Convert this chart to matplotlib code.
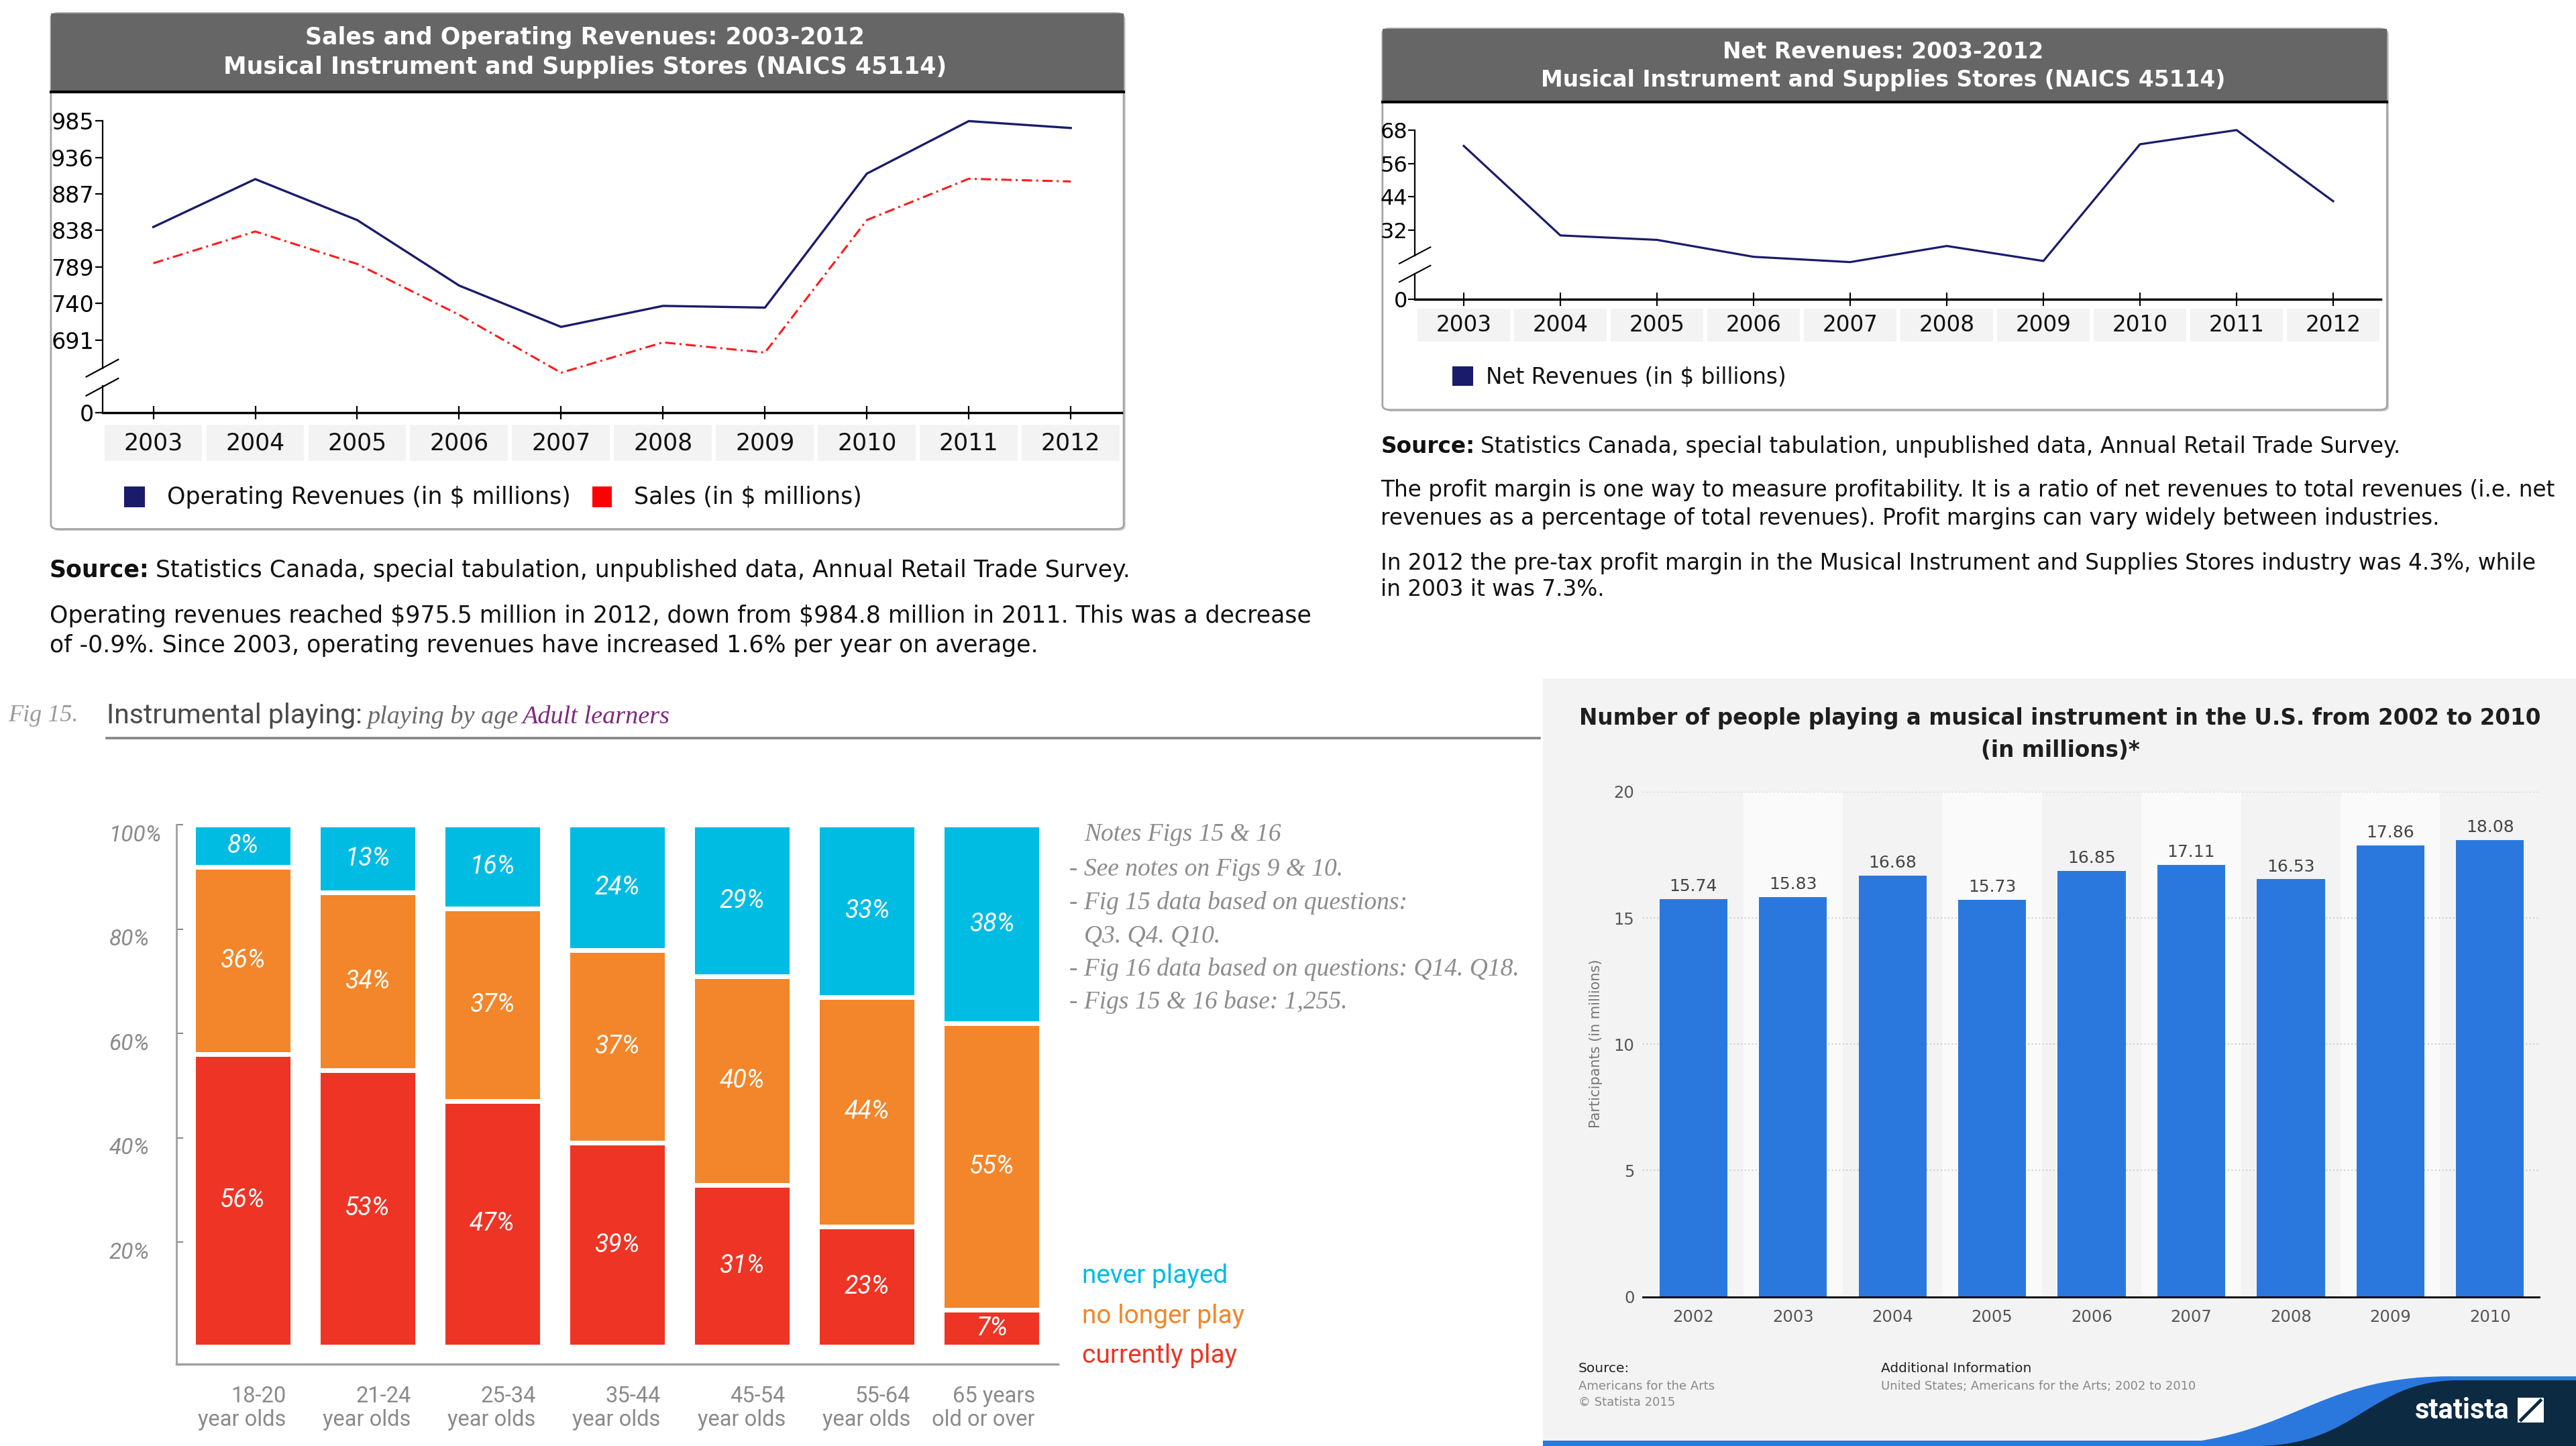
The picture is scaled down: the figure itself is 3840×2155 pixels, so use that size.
import numpy as np
import matplotlib
matplotlib.use("Agg")
import matplotlib.pyplot as plt
import matplotlib.transforms as mtransforms
from matplotlib.patches import Rectangle, FancyBboxPatch, PathPatch
from matplotlib.path import Path
from matplotlib.lines import Line2D
from matplotlib.text import Annotation

plt.rcParams['text.parse_math'] = False   # the texts contain plain dollar signs

# --- top left: sales and operating revenues, $ millions ---
years = list(range(2003, 2013))
operating_revenues = [842.6, 906.9, 851.9, 764.0, 708.5, 736.7, 734.4, 914.3, 984.8, 975.5]
sales = [794.0, 836.6, 793.0, 724.7, 647.0, 687.7, 674.0, 852.0, 907.4, 903.7]
rev_ticks = [691, 740, 789, 838, 887, 936, 985]
rev_zero_at = 593      # broken axis: the "0" sits two steps under 691

# --- top right: net revenues ---
net_revenues = [62.3, 30.1, 28.5, 22.4, 20.5, 26.3, 20.9, 62.9, 68.0, 42.4]
net_ticks = [32, 44, 56, 68]
net_zero_at = 7.2

# --- bottom left: Fig 15, playing by age (%) ---
age_groups = ["18-20\nyear olds", "21-24\nyear olds", "25-34\nyear olds", "35-44\nyear olds",
              "45-54\nyear olds", "55-64\nyear olds", "65 years\nold or over"]
currently_play = [56, 53, 47, 39, 31, 23, 7]
no_longer_play = [36, 34, 37, 37, 40, 44, 55]
never_played = [8, 13, 16, 24, 29, 33, 38]
pct_ticks = [20, 40, 60, 80, 100]

# --- bottom right: statista, players in the U.S. (millions) ---
us_years = [str(y) for y in range(2002, 2011)]
us_players = [15.74, 15.83, 16.68, 15.73, 16.85, 17.11, 16.53, 17.86, 18.08]
us_ticks = [0, 5, 10, 15, 20]

NAVY = '#1b1b6b'
RED_LINE = '#ff1a1a'
C_RED, C_ORANGE, C_CYAN = '#ee3424', '#f3862a', '#00bce3'
ST_BLUE, ST_NAVY = '#2a78de', '#0d2a43'
SERIF = 'Liberation Serif'
NARROW = 'Roboto'

fig = plt.figure(figsize=(38.4, 21.55), dpi=100)
W, H = 1568.0, 880.0   # layout measured on a 1568x880 copy of the picture


def box(x0, y0, x1, y1):
    return [x0 / W, 1 - y1 / H, (x1 - x0) / W, (y1 - y0) / H]


def txt(x, y, s, **kw):
    kw.setdefault('va', 'center')
    return fig.text(x / W, 1 - y / H, s, **kw)


def after(prev, s, gap=0, **kw):
    # text that continues right after another one on the same line
    a = Annotation(s, xy=(1, 0), xycoords=prev, xytext=(gap, 0), textcoords='offset points',
                   ha='left', va='bottom', **kw)
    fig.add_artist(a)
    return a


def fline(xs, ys, **kw):
    fig.add_artist(Line2D([x / W for x in xs], [1 - y / H for y in ys], **kw))


def frect(x0, y0, x1, y1, **kw):
    r = Rectangle((x0 / W, 1 - y1 / H), (x1 - x0) / W, (y1 - y0) / H,
                  transform=fig.transFigure, **kw)
    fig.add_artist(r)
    return r


def card(x0, y0, x1, y1, bar_y, lines, size, cx, ys):
    sh = FancyBboxPatch((x0 / W + 0.0007, 1 - y1 / H - 0.0012), (x1 - x0) / W, (y1 - y0) / H,
                        boxstyle="round,pad=0,rounding_size=0.003", transform=fig.transFigure,
                        fc='#cfcfcf', ec='none', zorder=-3)
    fig.add_artist(sh)
    c = FancyBboxPatch((x0 / W, 1 - y1 / H), (x1 - x0) / W, (y1 - y0) / H,
                       boxstyle="round,pad=0,rounding_size=0.003", transform=fig.transFigure,
                       fc='white', ec='#a5a5a5', lw=2, zorder=-2)
    fig.add_artist(c)
    frect(x0, y0, x1, bar_y, fc='#666666', ec='none', zorder=-1)
    fline([x0, x1], [bar_y, bar_y], color='black', lw=3)
    for s, y in zip(lines, ys):
        txt(cx, y, s, ha='center', color='white', fontsize=size, fontweight='bold')


def year_row(ax, y0, y1, size):
    tr = mtransforms.blended_transform_factory(ax.transData, fig.transFigure)
    for yr in years:
        ax.add_patch(Rectangle((yr - 0.48, 1 - y1 / H), 0.96, (y1 - y0) / H, transform=tr,
                               fc='#f3f3f3', ec='none', clip_on=False))
        ax.text(yr, 1 - (y0 + y1) / 2 / H, str(yr), transform=tr, ha='center', va='center',
                fontsize=size, color='#111111')


def broken_axis(ax, top_from, low_to, zero_at, top_val):
    for s in ['top', 'right']:
        ax.spines[s].set_visible(False)
    ax.spines['left'].set_bounds(top_from, top_val)
    ax.spines['left'].set_linewidth(1.6)
    ax.spines['bottom'].set_linewidth(2.5)
    ax.plot([0, 0], [zero_at, low_to], transform=ax.get_yaxis_transform(),
            color='black', lw=1.6, clip_on=False)


# ================= top left =================
card(31, 8, 684, 322, 56,
     ["Sales and Operating Revenues: 2003-2012",
      "Musical Instrument and Supplies Stores (NAICS 45114)"], 25, 356, [23, 41])

ax1 = fig.add_axes(box(62.3, 60, 682.8, 251.3))
ax1.patch.set_alpha(0)
ax1.plot(years, operating_revenues, color=NAVY, lw=2.4)
ax1.plot(years, sales, color=RED_LINE, lw=2.2, linestyle=(0, (5, 2, 1, 2)))
ax1.set_xticks(years)
ax1.set_xticklabels([])
ax1.set_yticks([rev_zero_at] + rev_ticks)
ax1.set_yticklabels(['0'] + [str(t) for t in rev_ticks])
ax1.tick_params(axis='y', direction='out', length=8, width=1.6, labelsize=24, pad=1)
ax1.tick_params(axis='x', direction='inout', length=15, width=1.6)
broken_axis(ax1, 653, 629, rev_zero_at, 985)
year_row(ax1, 258.6, 280.6, 25)
ax1.set_xlim(2002.5, 2012.5)
ax1.set_ylim(rev_zero_at, 1015)
fline([52.5, 72], [229.3, 218.8], color='black', lw=1.6)
fline([52.5, 72], [240.8, 230.3], color='black', lw=1.6)

frect(75.6, 295.9, 88, 308.8, fc=NAVY, ec='none')
txt(101.5, 302.5, "Operating Revenues (in $ millions)", fontsize=25, color='#111111')
frect(360.5, 295.9, 372.5, 308.8, fc='#ff0000', ec='none')
txt(386, 302.5, "Sales (in $ millions)", fontsize=25, color='#111111')

src1 = txt(30.2, 347, "Source:", fontsize=25, fontweight='bold', color='#111111')
after(src1, "Statistics Canada, special tabulation, unpublished data, Annual Retail Trade Survey.",
      gap=7, fontsize=25, color='#111111')
txt(30.2, 375, "Operating revenues reached $975.5 million in 2012, down from $984.8 million in 2011. "
    "This was a decrease", fontsize=25, color='#111111')
txt(30.2, 393, "of -0.9%. Since 2003, operating revenues have increased 1.6% per year on average.",
    fontsize=25, color='#111111')

# ================= top right =================
card(841.5, 17.4, 1453, 249.4, 62.2,
     ["Net Revenues: 2003-2012",
      "Musical Instrument and Supplies Stores (NAICS 45114)"], 23.7, 1146.3, [31.8, 49])

ax2 = fig.add_axes(box(861.3, 68, 1449, 182))
ax2.patch.set_alpha(0)
ax2.plot(years, net_revenues, color=NAVY, lw=2.3)
ax2.set_xticks(years)
ax2.set_xticklabels([])
ax2.set_yticks([net_zero_at] + net_ticks)
ax2.set_yticklabels(['0'] + [str(t) for t in net_ticks])
ax2.tick_params(axis='y', direction='out', length=7, width=1.5, labelsize=23, pad=1)
ax2.tick_params(axis='x', direction='inout', length=14, width=1.5)
broken_axis(ax2, 22.9, 16.3, net_zero_at, 68)
year_row(ax2, 188, 208, 23.5)
ax2.set_xlim(2002.495, 2012.49)
ax2.set_ylim(net_zero_at, 74.6)
fline([851.8, 870.7], [160.4, 150.4], color='black', lw=1.5)
fline([851.8, 870.7], [171.6, 161.6], color='black', lw=1.5)

frect(884, 223, 896.6, 235, fc=NAVY, ec='none')
txt(904.6, 229.5, "Net Revenues (in $ billions)", fontsize=23.5, color='#111111')

src2 = txt(840.5, 271.6, "Source:", fontsize=23.6, fontweight='bold', color='#111111')
after(src2, "Statistics Canada, special tabulation, unpublished data, Annual Retail Trade Survey.",
      gap=6, fontsize=23.6, color='#111111')
para = ["The profit margin is one way to measure profitability. It is a ratio of net revenues to total revenues (i.e. net",
        "revenues as a percentage of total revenues). Profit margins can vary widely between industries.",
        "In 2012 the pre-tax profit margin in the Musical Instrument and Supplies Stores industry was 4.3%, while",
        "in 2003 it was 7.3%."]
for s, y in zip(para, [298.4, 315.3, 342.7, 358.9]):
    txt(840.5, y, s, fontsize=23.6, color='#111111')

# ================= bottom left =================
txt(4.8, 435.5, "Fig 15.", family=SERIF, style='italic', fontsize=26, color='#9a9a9a')
t1 = txt(65, 435.5, "Instrumental playing:", family=NARROW, fontsize=29.5, color='#4a4a4a')
t2 = after(t1, "playing by age", gap=5, family=SERIF, style='italic', fontsize=27.5, color='#6a6a6a')
after(t2, "Adult learners", gap=4, family=SERIF, style='italic', fontsize=27.5, color='#7d2a7f')
fline([65, 937], [449.1, 449.1], color='#858585', lw=2.6)

ax3 = fig.add_axes(box(107.2, 502, 644, 830))
ax3.patch.set_alpha(0)
xpos = np.arange(len(age_groups))
bw = 0.794
bottom = np.zeros(len(xpos))
for vals, col in [(currently_play, C_RED), (no_longer_play, C_ORANGE), (never_played, C_CYAN)]:
    ax3.bar(xpos, vals, bw, bottom=bottom, color=col, edgecolor='white', linewidth=5, clip_on=False)
    for xi, b, v in zip(xpos, bottom, vals):
        ax3.text(xi, b + v / 2, f"{v}%", ha='center', va='center', color='white',
                 fontsize=27, family=NARROW, style='italic')
    bottom = bottom + np.array(vals)
ax3.set_xlim(-0.534, 6.531)
ax3.set_ylim(-3.34, 100)
ax3.set_xticks([])
ax3.set_yticks(pct_ticks)
ax3.set_yticklabels([f"{t}%" for t in pct_ticks])
ax3.tick_params(axis='y', direction='in', length=7, width=1.5, color='#8a8a8a',
                labelsize=24, labelcolor='#8a8a8a', pad=72)
shift = mtransforms.ScaledTranslation(0, -12 / 100, fig.dpi_scale_trans)
for lab in ax3.get_yticklabels():
    lab.set_ha('left')
    lab.set_family(NARROW)
    lab.set_style('italic')
    lab.set_transform(lab.get_transform() + shift)
for s in ['top', 'right']:
    ax3.spines[s].set_visible(False)
ax3.spines['left'].set_color('#a0a0a0')
ax3.spines['left'].set_linewidth(2)
ax3.spines['bottom'].set_color('#a0a0a0')
ax3.spines['bottom'].set_linewidth(2.5)

tr3 = mtransforms.blended_transform_factory(ax3.transData, fig.transFigure)
for xi, lab in zip(xpos, age_groups):
    l1, l2 = lab.split('\n')
    ax3.text(xi + bw / 2 - 0.05, 1 - 849.6 / H, l1, transform=tr3, ha='right', va='center',
             family=NARROW, fontsize=23.5, color='#8a8a8a')
    ax3.text(xi + bw / 2 - 0.05, 1 - 864.2 / H, l2, transform=tr3, ha='right', va='center',
             family=NARROW, fontsize=23.5, color='#8a8a8a')

notes = [(660, 508, "Notes Figs 15 & 16"),
         (651, 529.2, "- See notes on Figs 9 & 10."),
         (651, 549.5, "- Fig 15 data based on questions:"),
         (660, 570, "Q3. Q4. Q10."),
         (651, 589.7, "- Fig 16 data based on questions: Q14. Q18."),
         (651, 610, "- Figs 15 & 16 base: 1,255.")]
for x, y, s in notes:
    txt(x, y, s, family=SERIF, style='italic', fontsize=27, color='#8c8c8c')

txt(658.5, 776.5, "never played", family=NARROW, fontsize=28, color=C_CYAN)
txt(658.5, 801, "no longer play", family=NARROW, fontsize=28, color=C_ORANGE)
txt(658.5, 825, "currently play", family=NARROW, fontsize=28, color=C_RED)

# ================= bottom right =================
frect(939, 412.8, 1568, 880, fc='#f3f3f3', ec='none', zorder=-2)
txt(1254, 437, "Number of people playing a musical instrument in the U.S. from 2002 to 2010",
    ha='center', fontsize=23.5, fontweight='bold', color='#1e1e1e')
txt(1254, 456.7, "(in millions)*", ha='center', fontsize=23.5, fontweight='bold', color='#1e1e1e')

ax4 = fig.add_axes(box(1000, 481.8, 1545.6, 789.2))
ax4.patch.set_alpha(0)
xi4 = np.arange(len(us_years))
for i in xi4[1::2]:
    ax4.axvspan(i - 0.5, i + 0.5, color='#fafafa', lw=0, zorder=0)
ax4.bar(xi4, us_players, 0.683, color=ST_BLUE, zorder=2)
for i, v in zip(xi4, us_players):
    ax4.annotate(f"{v:.2f}", (i, v), xytext=(0, 5), textcoords='offset points',
                 ha='center', va='bottom', fontsize=18, color='#444444')
ax4.set_xlim(-0.508, 8.495)
ax4.set_ylim(0, 20)
ax4.set_xticks(xi4)
ax4.set_xticklabels(us_years)
ax4.set_yticks(us_ticks)
ax4.yaxis.grid(True, linestyle=(0, (1, 2)), color='#c4c4c4', lw=1.3)
ax4.set_axisbelow(True)
ax4.tick_params(axis='both', length=0, labelsize=17.5, labelcolor='#555555')
ax4.tick_params(axis='y', pad=9)
ax4.tick_params(axis='x', pad=13)
for s in ['top', 'right', 'left']:
    ax4.spines[s].set_visible(False)
ax4.spines['bottom'].set_linewidth(2)
txt(971.6, 635, "Participants (in millions)", rotation=90, ha='center', fontsize=15, color='#777777')

txt(960.7, 833, "Source:", fontsize=14.5, color='#222222')
txt(960.7, 843.6, "Americans for the Arts", fontsize=13, color='#888888')
txt(960.7, 853.3, "\u00a9 Statista 2015", fontsize=13, color='#888888')
txt(1144.8, 833, "Additional Information", fontsize=14.5, color='#222222')
txt(1144.8, 843.6, "United States; Americans for the Arts; 2002 to 2010", fontsize=13, color='#888888')


def wave(x_start, x_top, y_top, color, z):
    pts = [(x_start, 880), (x_start + 0.5 * (x_top - x_start), 879),
           (x_start + 0.55 * (x_top - x_start), y_top + 0.5), (x_top, y_top),
           (1568, y_top), (1568, 880), (x_start, 880)]
    codes = [Path.MOVETO, Path.CURVE4, Path.CURVE4, Path.CURVE4,
             Path.LINETO, Path.LINETO, Path.CLOSEPOLY]
    p = Path([(x / W, 1 - y / H) for x, y in pts], codes)
    fig.add_artist(PathPatch(p, transform=fig.transFigure, fc=color, ec='none', zorder=z))


frect(939, 876.8, 1568, 880, fc=ST_BLUE, ec='none')
wave(1300, 1490, 837.6, ST_BLUE, 1)
wave(1375, 1496, 840, ST_NAVY, 1.1)
txt(1498.5, 858.5, "statista", ha='center', fontsize=30, fontweight='bold', family=NARROW,
    color='white', zorder=5)
frect(1532.5, 850.8, 1548.4, 865.7, fc='white', ec='none', zorder=5)
fline([1534.5, 1546.4], [864.2, 852.3], color=ST_NAVY, lw=3.5, zorder=6)

fig.savefig("out.png", dpi=100)
